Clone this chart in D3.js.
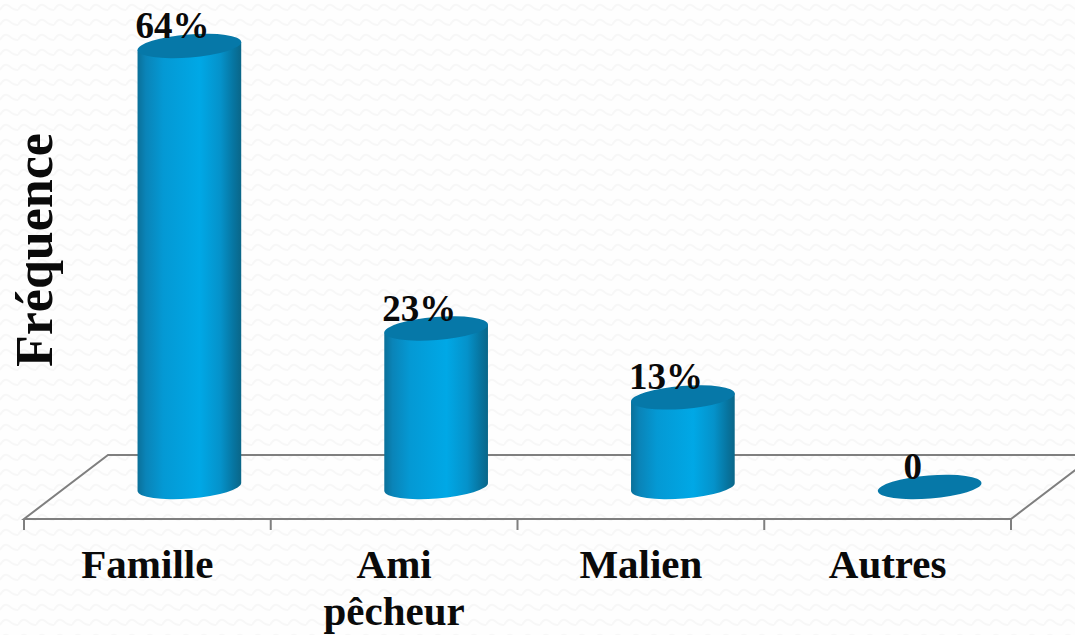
<!DOCTYPE html>
<html>
<head>
<meta charset="utf-8">
<script src="https://cdn.jsdelivr.net/npm/d3@7"></script>
<style>
  html, body { margin: 0; padding: 0; background: #fefefe; overflow: hidden; }
  text { font-family: "Liberation Serif", serif; font-weight: bold; fill: #0a0a0a; }
</style>
</head>
<body>
<div id="chart"></div>
<script>
// data
var categories = ["Famille", "Ami pêcheur", "Malien", "Autres"];
var values = [64, 23, 13, 0];
var valueLabels = ["64%", "23%", "13%", "0"];
var yTitle = "Fréquence";

var width = 1075, height = 635;

// floor of the 3d box
var floorFront = 519, floorBack = 455, floorDepth = 84;

var svg = d3.select("#chart")
    .append("svg")
    .attr("width", width)
    .attr("height", height)
    .style("display", "block");

var defs = svg.append("defs");

// faint wavy background
var pattern = defs.append("pattern")
    .attr("id", "waves")
    .attr("patternUnits", "userSpaceOnUse")
    .attr("width", 18)
    .attr("height", 15);
pattern.append("path")
    .attr("d", "M0 10 Q4.5 2 9 6 Q13.5 10 18 10")
    .attr("fill", "none")
    .attr("stroke", "#f7f7f7")
    .attr("stroke-width", 2);

// cylinder side shading
var grad = defs.append("linearGradient").attr("id", "side");
[[0, "#0a7099"], [0.08, "#0a84b8"], [0.25, "#0499d4"], [0.6, "#00a8e6"], [0.8, "#0592ca"], [0.93, "#07749f"], [1, "#0a6688"]]
    .forEach(function (s) {
        grad.append("stop").attr("offset", s[0]).attr("stop-color", s[1]);
    });

svg.append("rect")
    .attr("width", width)
    .attr("height", height)
    .attr("fill", "#fefefe");
svg.append("rect")
    .attr("width", width)
    .attr("height", height)
    .attr("fill", "url(#waves)");

// scales
var x = d3.scaleBand()
    .domain(categories)
    .range([24, 1011]);

var y = d3.scaleLinear()
    .domain([0, 64])
    .range([487, 46]);

// floor
var floor = svg.append("g")
    .attr("fill", "none")
    .attr("stroke", "#7f7f7f")
    .attr("stroke-width", 2);

floor.append("path")
    .attr("d", d3.line()([
        [x.range()[1] + floorDepth, floorBack],
        [x.range()[0] + floorDepth, floorBack],
        [x.range()[0], floorFront],
        [x.range()[1], floorFront],
        [x.range()[1] + floorDepth, floorBack]
    ]));

// ticks on the band edges
floor.selectAll("line")
    .data(categories.concat(["end"]))
    .enter()
    .append("line")
    .attr("x1", function (d, i) { return x.range()[0] + i * x.bandwidth(); })
    .attr("x2", function (d, i) { return x.range()[0] + i * x.bandwidth(); })
    .attr("y1", floorFront)
    .attr("y2", floorFront + 11);

// cylinders
var rx = 52, ry = 11.5, tilt = 4.5;
var dx = rx * Math.cos(tilt * Math.PI / 180), dy = rx * Math.sin(tilt * Math.PI / 180);

function centerX(d) {
    return x(d) + x.bandwidth() / 2 + floorDepth / 2;
}

var bars = svg.selectAll("g.bar")
    .data(categories)
    .enter()
    .append("g")
    .attr("class", "bar");

bars.filter(function (d, i) { return values[i] > 0; })
    .append("path")
    .attr("fill", "url(#side)")
    .attr("d", function (d, i) {
        var cx = centerX(d), top = y(values[i]), bottom = y(0);
        return "M" + (cx - dx) + "," + (top + dy) +
            "L" + (cx - dx) + "," + (bottom + dy) +
            "A" + rx + "," + ry + " " + (-tilt) + " 0 0 " + (cx + dx) + "," + (bottom - dy) +
            "L" + (cx + dx) + "," + (top - dy) + "Z";
    });

bars.append("ellipse")
    .attr("rx", rx)
    .attr("ry", ry)
    .attr("fill", "#0678a8")
    .attr("transform", function (d, i) {
        return "translate(" + centerX(d) + "," + y(values[i]) + ") rotate(" + (-tilt) + ")";
    });

// value labels
bars.append("text")
    .attr("text-anchor", "middle")
    .attr("font-size", 37)
    .attr("x", function (d) { return centerX(d) - 17; })
    .attr("y", function (d, i) { return y(values[i]) - 8; })
    .text(function (d, i) { return valueLabels[i]; });

// category labels, wrapped on spaces
var labels = svg.selectAll("text.cat")
    .data(categories)
    .enter()
    .append("text")
    .attr("class", "cat")
    .attr("text-anchor", "middle")
    .attr("font-size", 41)
    .attr("y", 578);

labels.selectAll("tspan")
    .data(function (d) {
        return d.split(" ").map(function (w) { return { word: w, cat: d }; });
    })
    .enter()
    .append("tspan")
    .attr("x", function (d) { return x(d.cat) + x.bandwidth() / 2; })
    .attr("dy", function (d, i) { return i === 0 ? 0 : 47; })
    .text(function (d) { return d.word; });

// y title
svg.append("text")
    .attr("text-anchor", "middle")
    .attr("font-size", 52)
    .attr("transform", "translate(52,250) rotate(-90)")
    .text(yTitle);
</script>
</body>
</html>
